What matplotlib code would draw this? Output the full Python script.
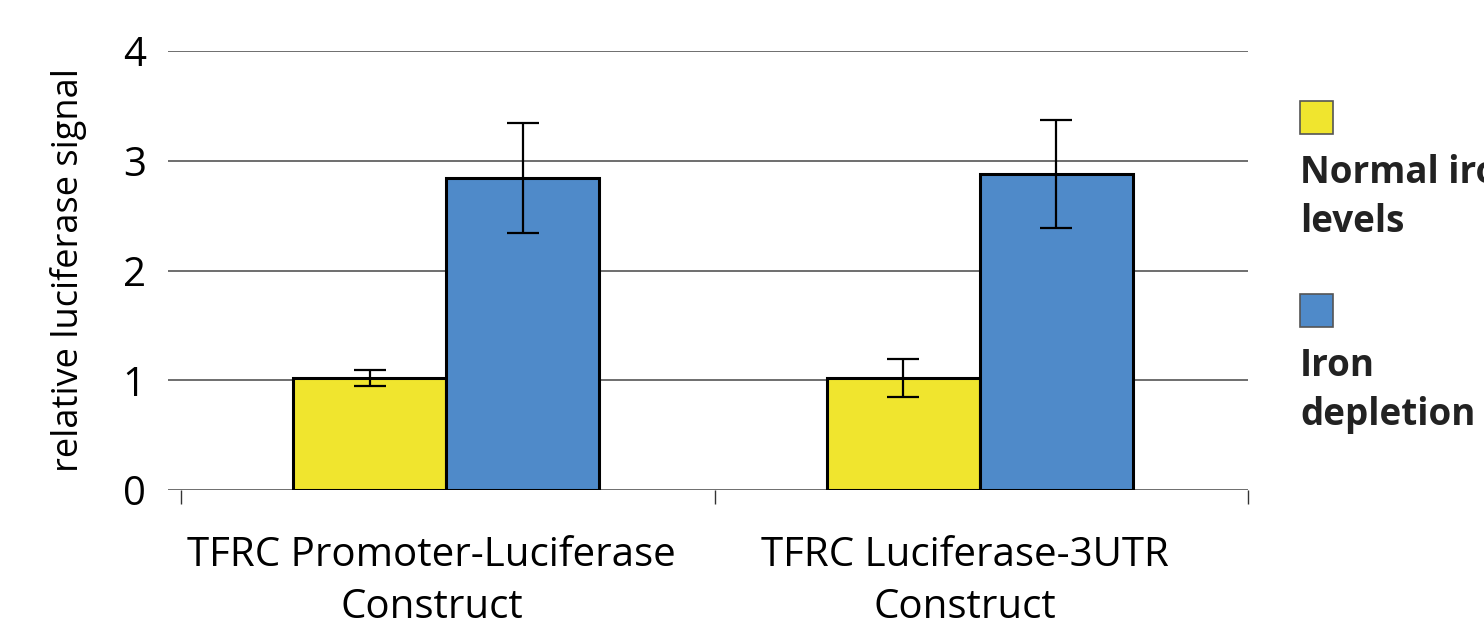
import numpy as np
import matplotlib.pyplot as plt
from matplotlib.transforms import ScaledTranslation

plt.rcParams['font.family'] = ['Open Sans', 'DejaVu Sans']

categories = ['TFRC Promoter-Luciferase\nConstruct', 'TFRC Luciferase-3UTR\nConstruct']
series_names = ['Normal iron\nlevels', 'Iron\ndepletion']
normal_iron = [1.02, 1.02]
normal_err = [0.07, 0.17]
iron_depletion = [2.84, 2.88]
depletion_err = [0.50, 0.49]

yellow = '#F0E52E'
blue = '#4F8AC9'

W, H = 1484, 619
fig = plt.figure(figsize=(W / 100, H / 100), dpi=100)
ax = fig.add_axes([168 / W, (H - 490) / H, (1248 - 168) / W, (490 - 51) / H])

x = np.arange(len(categories))
bw = 0.287
ekw = dict(elinewidth=1.6, capthick=1.6, ecolor='black')
ax.bar(x - bw / 2 - 0.003, normal_iron, bw, yerr=normal_err, color=yellow, edgecolor='black',
       linewidth=2.2, capsize=11.5, error_kw=ekw, zorder=3, label=series_names[0])
ax.bar(x + bw / 2 - 0.003, iron_depletion, bw, yerr=depletion_err, color=blue, edgecolor='black',
       linewidth=2.2, capsize=11.5, error_kw=ekw, zorder=3, label=series_names[1])

ax.set_xlim(-0.5 - 13 / 533.5, 1.5)
ax.set_ylim(0, 4)
for v in range(0, 5):
    ax.axhline(v, color='#555555', lw=1.2, zorder=1)

for s in ax.spines.values():
    s.set_visible(False)

ax.set_yticks(range(0, 5))
ax.tick_params(axis='y', length=0, pad=16, labelsize=29)
ax.set_xticks([-0.5, 0.5, 1.5])
ax.set_xticklabels([])
ax.tick_params(axis='x', which='major', length=10, width=1, color='#333333', direction='out')
ax.set_xticks(x, minor=True)
ax.set_xticklabels(categories, minor=True, fontsize=29, linespacing=1.38)
ax.tick_params(axis='x', which='minor', length=0, pad=33)
# labels sit slightly left of the group centres in the original
shift = ScaledTranslation(-16 / 100, 0, fig.dpi_scale_trans)
for lbl in ax.get_xticklabels(minor=True):
    lbl.set_transform(lbl.get_transform() + shift)

ax.set_ylabel('relative luciferase signal', fontsize=26, labelpad=26)

# legend drawn by hand to match the clipped layout
handles, labels = ax.get_legend_handles_labels()
for i, (h, lab) in enumerate(zip(handles, labels)):
    y0 = 101 + i * 193
    fig.patches.append(plt.Rectangle((1300 / W, (H - y0 - 33) / H), 33 / W, 33 / H,
                                     transform=fig.transFigure, facecolor=h.patches[0].get_facecolor(),
                                     edgecolor='#555555', lw=1.2))
    for j, line in enumerate(lab.split('\n')):
        fig.text(1300 / W, (H - y0 - 82 - j * 49) / H, line, fontsize=26.5, fontweight='bold',
                 color='#222222', va='baseline', ha='left')

fig.savefig('out.png', dpi=100)
